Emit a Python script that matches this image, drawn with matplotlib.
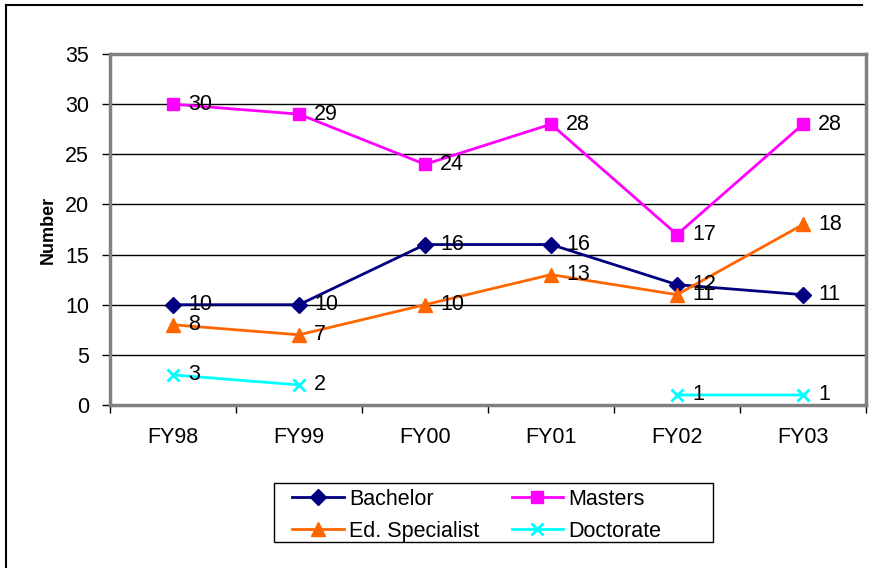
import numpy as np
import matplotlib.pyplot as plt
from matplotlib.lines import Line2D
from matplotlib.patches import Rectangle

plt.rcParams['font.family'] = ['Liberation Sans', 'DejaVu Sans']

years = ["FY98", "FY99", "FY00", "FY01", "FY02", "FY03"]
bachelor = [10, 10, 16, 16, 12, 11]
masters = [30, 29, 24, 28, 17, 28]
ed_specialist = [8, 7, 10, 13, 11, 18]
doctorate = [3, 2, np.nan, np.nan, 1, 1]

series = [
    ("Bachelor", bachelor, "#000080", "D", 8),
    ("Masters", masters, "#FF00FF", "s", 8.5),
    ("Ed. Specialist", ed_specialist, "#FF6600", "^", 9.5),
    ("Doctorate", doctorate, "#00FFFF", "x", 8.5),
]
fs = 15.5
W, H = 871, 568

fig = plt.figure(figsize=(W / 100, H / 100), dpi=100)
ax = fig.add_axes([110 / W, 1 - 405 / H, 756 / W, 351 / H])

x = np.arange(len(years))
handles = {}
for name, vals, color, marker, ms in series:
    h, = ax.plot(x, vals, color=color, marker=marker, markersize=ms, linewidth=2,
                 markeredgewidth=2 if marker == "x" else 1, label=name, zorder=3)
    handles[name] = h
    for xi, v in zip(x, vals):
        if not np.isnan(v):
            ax.annotate(str(int(v)), (xi, v), xytext=(11, 0), textcoords="offset points",
                        va="center", ha="left", fontsize=fs, zorder=4)

ax.set_xlim(-0.5, len(years) - 0.5)
ax.set_ylim(0, 35)
ax.set_yticks(range(0, 36, 5))
ax.set_xticks(x)
ax.set_xticklabels(years)
ax.set_xticks(np.arange(-0.5, len(years)), minor=True)
ax.tick_params(axis="x", which="major", length=0, pad=16, labelsize=fs)
ax.tick_params(axis="x", which="minor", length=6, width=1, direction="out", color="black")
ax.tick_params(axis="y", length=6, width=1, pad=9, labelsize=fs)
ax.yaxis.grid(True, color="black", linewidth=1)
ax.set_axisbelow(True)
for sp in ax.spines.values():
    sp.set_color("#808080")
    sp.set_linewidth(2.5)
ax.set_ylabel("Number", fontsize=13, fontweight="bold", labelpad=6)

# legend box drawn separately so it can be wider than its contents
fig.add_artist(Rectangle((274 / W, 1 - 542 / H), 439 / W, 59 / H, fill=False,
                         edgecolor="black", linewidth=1, transform=fig.transFigure))
# ncol=2 fills column-wise, so order gives rows Bachelor/Masters and Ed. Specialist/Doctorate
order = ["Bachelor", "Ed. Specialist", "Masters", "Doctorate"]
leg = fig.legend(handles=[handles[n] for n in order], labels=order,
                 ncol=2, loc="upper left", bbox_to_anchor=(292 / W, 1 - 489 / H),
                 fontsize=fs, frameon=False, handlelength=2.4, columnspacing=1.5,
                 labelspacing=0.5, borderpad=0, handletextpad=0.25, borderaxespad=0)

# outer chart frame (only top and left edges are visible in the picture)
fig.add_artist(Line2D([6 / W, 6 / W], [0, 1 - 5 / H], color="black", linewidth=1.5,
                      transform=fig.transFigure))
fig.add_artist(Line2D([6 / W, 862 / W], [1 - 5 / H, 1 - 5 / H], color="black",
                      linewidth=1.5, transform=fig.transFigure))

fig.savefig("out.png", dpi=100)
